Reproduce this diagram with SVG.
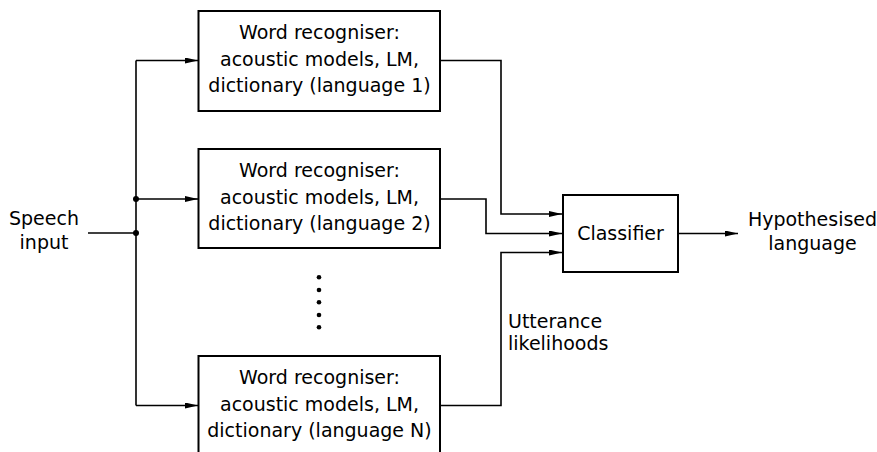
<svg xmlns="http://www.w3.org/2000/svg" width="877" height="452" viewBox="0 0 877 452">
<defs>
<style>
text{font-family:"DejaVu Sans",sans-serif;font-size:19px;fill:#000;text-anchor:middle}
.box{fill:#fff;stroke:#000;stroke-width:2}
.wire{fill:none;stroke:#000;stroke-width:1.6}
.lbl{text-anchor:start}
</style>
<marker id="arr" viewBox="0 0 13 6" refX="13" refY="3" markerWidth="13" markerHeight="6" markerUnits="userSpaceOnUse" orient="auto">
<path d="M0,0 L13,3 L0,6 z" fill="#000"/>
</marker>
</defs>
<g id="connectors">
<path class="wire" d="M88,233 H136"/>
<path class="wire" d="M136,60.5 V405.5"/>
<path class="wire" d="M136,60.5 H198" marker-end="url(#arr)"/>
<path class="wire" d="M136,199 H198" marker-end="url(#arr)"/>
<path class="wire" d="M136,405.5 H198" marker-end="url(#arr)"/>
<circle cx="136" cy="199" r="3"/>
<circle cx="136" cy="233" r="3"/>
<path class="wire" d="M440,60.5 H501 V214 H562" marker-end="url(#arr)"/>
<path class="wire" d="M440,199 H486 V233.5 H562" marker-end="url(#arr)"/>
<path class="wire" d="M440,405.5 H501 V252.5 H562" marker-end="url(#arr)"/>
<path class="wire" d="M678,233.5 H738" marker-end="url(#arr)"/>
</g>
<g id="speech-input">
<text x="44" y="225">Speech</text>
<text x="44" y="249">input</text>
</g>
<g id="recogniser-1">
<rect class="box" x="198.5" y="11" width="241.5" height="100"/>
<text x="319.5" y="39.3">Word recogniser:</text>
<text x="319.5" y="66">acoustic models, LM,</text>
<text x="319.5" y="92.3">dictionary (language 1)</text>
</g>
<g id="recogniser-2">
<rect class="box" x="198.5" y="149" width="241.5" height="99"/>
<text x="319.5" y="177">Word recogniser:</text>
<text x="319.5" y="204">acoustic models, LM,</text>
<text x="319.5" y="230.3">dictionary (language 2)</text>
</g>
<g id="ellipsis">
<circle cx="319" cy="277.3" r="2.3"/>
<circle cx="319" cy="290" r="2.3"/>
<circle cx="319" cy="302.3" r="2.3"/>
<circle cx="319" cy="315" r="2.3"/>
<circle cx="319" cy="327.3" r="2.3"/>
</g>
<g id="recogniser-n">
<rect class="box" x="198.5" y="356" width="241.5" height="100"/>
<text x="319.5" y="384.3">Word recogniser:</text>
<text x="319.5" y="411">acoustic models, LM,</text>
<text x="319.5" y="437.3">dictionary (language N)</text>
</g>
<g id="classifier">
<rect class="box" x="563" y="195" width="115" height="77"/>
<text x="620.5" y="240">Classifier</text>
</g>
<g id="utterance-label">
<text class="lbl" x="508" y="328.3">Utterance</text>
<text class="lbl" x="508" y="350">likelihoods</text>
</g>
<g id="output">
<text x="812.5" y="226">Hypothesised</text>
<text x="812.5" y="249.5">language</text>
</g>
</svg>
